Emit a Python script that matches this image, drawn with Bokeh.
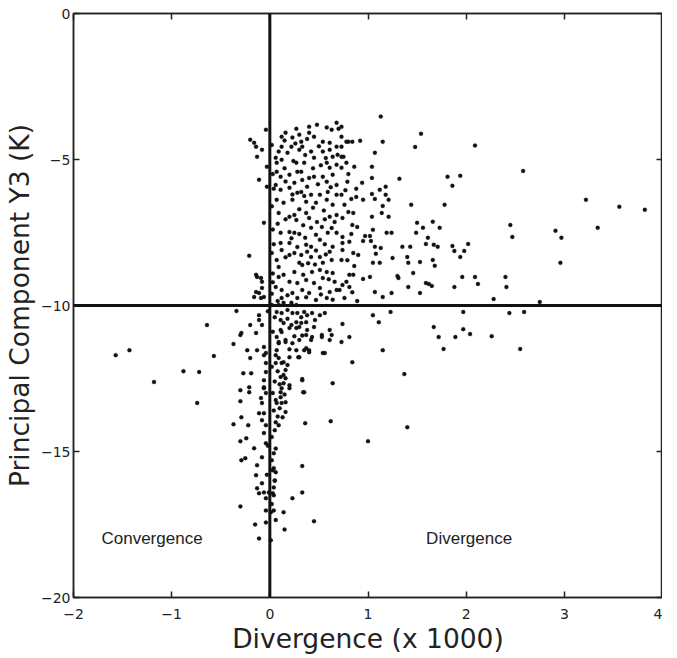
from bokeh.plotting import figure
from bokeh.models import Span, LinearAxis, CustomJSTickFormatter, FixedTicker, ColumnDataSource
from bokeh.core.properties import value
from bokeh.embed import file_html
from bokeh.resources import INLINE

# ---------------- data ----------------
x_ticks = [-2, -1, 0, 1, 2, 3, 4]
y_ticks = [0, -5, -10, -15, -20]
x_title = "Divergence (x 1000)"
y_title = "Principal Component Y3 (K)"

label_x = [-1.20, 2.03]
label_y = [-17.98, -17.98]
label_text = ["Convergence", "Divergence"]

# sparse points, upper right
pts_upper_right = [
    (1.13, -3.53), (1.15, -4.39), (0.92, -4.36), (1.07, -4.77), (1.54, -4.12), (1.48, -4.57),
    (2.09, -4.52), (2.58, -5.39), (3.22, -6.38), (3.56, -6.62), (3.82, -6.72), (3.34, -7.34),
    (2.91, -7.44), (2.97, -7.68), (2.96, -8.54), (2.45, -7.24), (2.47, -7.65), (1.81, -5.59),
    (1.94, -5.56), (1.86, -5.90), (1.32, -5.66), (1.44, -6.55), (1.78, -6.55), (1.50, -7.17),
    (1.56, -7.34), (1.66, -7.13), (1.73, -7.34), (1.49, -7.51), (1.61, -7.68), (1.59, -7.89),
    (1.67, -7.92), (1.71, -7.99), (1.86, -7.96), (1.88, -8.13), (2.02, -7.89), (1.98, -8.13),
    (1.94, -8.34), (1.66, -8.44), (1.68, -8.64), (1.53, -8.51), (1.43, -7.99), (1.40, -8.34),
    (1.41, -8.54), (1.35, -7.99), (1.25, -8.37), (1.46, -8.89), (1.41, -9.37), (1.53, -9.57),
    (1.59, -9.23), (1.62, -9.26), (1.65, -9.33), (1.88, -9.37), (1.96, -9.02), (2.09, -9.02),
    (2.12, -9.26), (2.40, -9.02), (2.41, -9.37), (2.28, -9.78), (2.75, -9.88), (1.30, -8.99),
    (1.31, -9.06), (1.24, -9.57), (1.15, -9.71), (1.07, -9.54), (1.02, -9.02), (0.95, -9.09),
    (1.21, -6.96), (1.21, -6.38), (1.18, -6.21), (1.12, -6.04), (1.18, -5.93), (1.04, -5.63),
    (0.94, -5.80), (0.88, -6.00), (0.88, -6.28), (0.95, -6.38), (1.04, -6.18), (1.07, -6.35),
    (1.15, -6.59), (1.04, -6.96), (1.05, -7.41), (0.97, -7.62), (1.02, -7.62), (0.95, -7.79),
    (1.03, -7.79), (1.07, -7.99), (1.13, -8.03), (1.08, -8.23), (1.05, -8.54), (1.12, -8.54),
    (1.19, -7.51), (1.24, -7.51), (1.14, -6.83), (1.04, -5.25), (0.86, -5.25),
]

# sparse points, lower right
pts_lower_right = [
    (1.97, -10.22), (2.44, -10.26), (2.59, -10.22), (1.67, -10.74), (1.97, -10.81), (1.05, -10.33),
    (1.11, -10.57), (1.23, -10.22), (0.74, -10.63), (0.61, -11.18), (0.73, -11.25), (0.81, -11.08),
    (1.15, -11.53), (0.84, -11.94), (1.00, -14.65), (1.37, -12.35), (1.40, -14.17), (1.72, -11.08),
    (1.77, -11.49), (1.89, -11.08), (2.04, -10.98), (2.26, -11.05), (2.55, -11.49),
]

# points left of the zero line
pts_left = [
    (-1.57, -11.70), (-1.43, -11.53), (-1.18, -12.62), (-0.88, -12.25), (-0.72, -12.28),
    (-0.74, -13.34), (-0.57, -11.73), (-0.64, -10.67), (-0.37, -11.32), (-0.30, -11.01),
    (-0.14, -10.94), (-0.23, -11.53), (-0.13, -11.53), (-0.27, -12.32), (-0.19, -12.32),
    (-0.30, -12.90), (-0.21, -12.97), (-0.30, -13.28), (-0.29, -13.83), (-0.37, -14.07),
    (-0.22, -14.10), (-0.24, -14.55), (-0.30, -14.65), (-0.16, -14.89), (-0.25, -15.23),
    (-0.29, -15.30), (-0.08, -15.20), (-0.13, -15.47), (-0.14, -15.81), (-0.08, -16.09),
    (-0.11, -16.43), (-0.30, -16.88), (-0.15, -17.50), (-0.04, -17.43), (-0.11, -17.98),
    (-0.08, -13.93), (-0.06, -13.69), (-0.08, -13.34), (-0.06, -12.80), (-0.04, -11.63),
    (-0.06, -11.42), (-0.04, -3.98), (-0.20, -4.32), (-0.14, -4.56), (-0.13, -4.91),
    (-0.11, -5.69), (-0.06, -7.17), (-0.21, -8.30), (-0.13, -9.02), (-0.08, -9.19),
    (-0.11, -9.57), (-0.06, -9.71), (-0.34, -10.19), (-0.20, -10.67), (-0.03, -5.93),
    (-0.03, -5.25), (-0.16, -4.43), (-0.08, -4.67), (-0.14, -8.95), (-0.09, -9.06),
    (-0.14, -9.54), (-0.08, -9.40), (-0.16, -9.71), (-0.09, -9.74), (-0.11, -10.33),
    (-0.11, -10.50), (-0.08, -10.67), (-0.29, -10.94), (-0.20, -11.80), (-0.06, -11.70),
    (-0.04, -11.97), (-0.04, -12.28), (-0.06, -12.56), (-0.21, -12.80), (-0.06, -12.83),
    (-0.09, -13.17), (-0.04, -13.00), (-0.11, -13.69), (-0.04, -14.10), (-0.06, -14.37),
    (-0.04, -14.72), (-0.13, -16.26), (-0.06, -16.40), (-0.01, -16.40), (-0.04, -16.60),
    (-0.04, -17.02), (-0.02, -14.80), (-0.03, -15.80), (-0.02, -10.20),
]

# points just right of the zero line, below -10
pts_lower_near = [
    (0.14, -17.08), (0.15, -17.67), (0.23, -16.60), (0.33, -16.40), (0.33, -15.50), (0.45, -17.39),
    (0.36, -14.03), (0.34, -12.97), (0.33, -12.52), (0.64, -12.66), (0.62, -13.96), (0.54, -11.63),
    (0.53, -11.01), (0.61, -10.84), (0.37, -11.46), (0.29, -11.77), (0.20, -12.73), (0.14, -12.38),
    (0.11, -12.97), (0.12, -13.34), (0.13, -13.83), (0.10, -13.52), (0.06, -13.24), (0.05, -14.27),
    (0.04, -15.06), (0.03, -15.64), (0.05, -15.99), (0.03, -16.43), (0.04, -17.02), (0.01, -18.04),
    (0.06, -11.97), (0.09, -11.29), (0.16, -11.18), (0.23, -11.29), (0.30, -11.18), (0.37, -11.01),
    (0.43, -11.08), (0.12, -11.97), (0.16, -12.21), (0.20, -11.77), (0.27, -11.53), (0.40, -11.53),
    (0.30, -10.74), (0.20, -10.77), (0.11, -10.84), (0.09, -9.98), (0.14, -9.91), (0.22, -9.91),
    (0.27, -9.98), (0.07, -10.22), (0.12, -10.26), (0.18, -10.15), (0.23, -10.26), (0.28, -10.26),
    (0.35, -10.22), (0.38, -10.33), (0.43, -10.26), (0.51, -10.33), (0.56, -10.26), (0.11, -10.50),
    (0.14, -10.60), (0.22, -10.67), (0.27, -10.57), (0.32, -10.60), (0.37, -10.57), (0.12, -10.91),
    (0.27, -10.77), (0.38, -10.84), (0.45, -10.74), (0.07, -11.08), (0.33, -11.03), (0.42, -11.18),
    (0.53, -11.08), (0.63, -11.01), (0.09, -11.25), (0.16, -11.25), (0.07, -11.53), (0.35, -11.53),
    (0.40, -11.60), (0.56, -11.63), (0.09, -11.80), (0.14, -11.94), (0.30, -11.77), (0.18, -12.04),
    (0.11, -12.45), (0.16, -12.49), (0.14, -12.66), (0.33, -12.56), (0.12, -12.83), (0.20, -12.83),
    (0.35, -12.97), (0.11, -13.14), (0.07, -13.34), (0.16, -13.31), (0.06, -14.00), (0.16, -13.65),
    (0.04, -15.57), (0.06, -15.71), (0.04, -16.23), (0.04, -16.50), (0.01, -17.08),
    (0.05, -10.40), (0.03, -10.90), (0.06, -11.70), (0.02, -12.10), (0.05, -12.60), (0.03, -13.00),
    (0.04, -13.60), (0.02, -14.50), (0.06, -14.90), (0.02, -15.30), (0.05, -16.00), (0.02, -16.80),
    (0.06, -17.35), (0.18, -10.45), (0.25, -11.05), (0.08, -12.25), (0.10, -12.70), (0.15, -13.05),
    (0.09, -14.10), (0.08, -13.80), (0.20, -11.50), (0.32, -10.40), (0.46, -10.50),
]

# dense cluster above -10, right of the zero line
pts_cluster = [
    (0.48, -3.81), (0.68, -3.74), (0.63, -3.98), (0.40, -4.08), (0.30, -4.15), (0.16, -4.08),
    (0.12, -4.22), (0.23, -4.25), (0.45, -4.22), (0.54, -4.39), (0.61, -4.43), (0.68, -4.56),
    (0.32, -4.39), (0.33, -4.56), (0.30, -4.67), (0.22, -4.56), (0.12, -4.56), (0.09, -4.73),
    (0.18, -4.77), (0.42, -4.73), (0.45, -4.94), (0.54, -4.73), (0.61, -4.67), (0.64, -4.91),
    (0.69, -4.84), (0.58, -5.11), (0.61, -5.28), (0.68, -5.18), (0.06, -4.94), (0.07, -5.11),
    (0.12, -5.01), (0.27, -5.11), (0.35, -5.11), (0.28, -5.42), (0.32, -5.42), (0.07, -5.42),
    (0.11, -5.59), (0.20, -5.52), (0.40, -5.63), (0.45, -5.59), (0.54, -5.59), (0.64, -5.52),
    (0.58, -5.76), (0.68, -5.87), (0.38, -5.93), (0.25, -5.80), (0.20, -5.97), (0.06, -5.87),
    (0.11, -6.04), (0.28, -6.14), (0.32, -6.11), (0.42, -6.21), (0.51, -6.21), (0.59, -6.11),
    (0.68, -6.21), (0.07, -6.38), (0.14, -6.48), (0.23, -6.38), (0.37, -6.45), (0.47, -6.48),
    (0.58, -6.38), (0.64, -6.55), (0.09, -6.83), (0.20, -6.96), (0.25, -6.90), (0.27, -7.07),
    (0.37, -6.83), (0.40, -7.00), (0.48, -7.14), (0.53, -7.31), (0.61, -6.96), (0.68, -6.90),
    (0.66, -7.14), (0.11, -7.51), (0.20, -7.48), (0.25, -7.51), (0.30, -7.55), (0.42, -7.34),
    (0.47, -7.58), (0.51, -7.75), (0.59, -7.51), (0.68, -7.51), (0.11, -7.86), (0.12, -8.10),
    (0.20, -7.86), (0.37, -7.92), (0.42, -7.99), (0.38, -8.16), (0.64, -7.99), (0.61, -8.16),
    (0.20, -8.27), (0.25, -8.20), (0.32, -8.27), (0.42, -8.34), (0.51, -8.34), (0.63, -8.44),
    (0.30, -8.54), (0.33, -8.61), (0.54, -8.54), (0.07, -8.44), (0.09, -8.68), (0.25, -8.85),
    (0.43, -8.85), (0.51, -8.78), (0.58, -8.85), (0.64, -8.89), (0.09, -9.02), (0.20, -9.19),
    (0.28, -9.23), (0.37, -9.13), (0.45, -9.23), (0.54, -9.06), (0.66, -9.19), (0.06, -9.37),
    (0.12, -9.47), (0.23, -9.57), (0.33, -9.47), (0.40, -9.57), (0.51, -9.40), (0.61, -9.54),
    (0.68, -9.47), (0.12, -9.74), (0.28, -9.74), (0.47, -9.81), (0.58, -9.74), (0.02, -9.98),
    (0.85, -6.83), (0.74, -7.00), (0.84, -7.24), (0.89, -7.31), (0.74, -7.65), (0.81, -7.82),
    (0.74, -7.86), (0.74, -8.10), (0.85, -8.20), (0.90, -8.27), (0.73, -8.44), (0.81, -8.95),
    (0.85, -8.95), (0.78, -9.19), (0.74, -9.30), (0.81, -9.37), (0.71, -9.47), (0.76, -9.74),
    (0.89, -9.85), (0.78, -4.39), (0.80, -4.39), (0.84, -4.39), (0.73, -3.88), (0.73, -4.22),
    (0.73, -4.56), (0.73, -4.91), (0.75, -4.91), (0.78, -5.11), (0.73, -5.28), (0.79, -5.76),
    (0.73, -6.21), (0.76, -6.55), (0.02, -4.50), (0.03, -5.50), (0.02, -6.60), (0.03, -7.40),
    (0.02, -8.20), (0.03, -8.90), (0.02, -9.60), (0.04, -6.00), (0.04, -7.90), (0.03, -9.20),
    (0.15, -4.35), (0.26, -4.45), (0.38, -4.30), (0.50, -4.55), (0.57, -4.95), (0.36, -4.85),
    (0.24, -5.05), (0.15, -5.30), (0.44, -5.30), (0.52, -5.20), (0.33, -5.70), (0.16, -5.75),
    (0.49, -5.85), (0.62, -5.95), (0.23, -6.20), (0.35, -6.25), (0.44, -6.65), (0.55, -6.75),
    (0.30, -6.70), (0.16, -7.05), (0.08, -7.20), (0.34, -7.25), (0.56, -7.05), (0.63, -7.35),
    (0.22, -7.70), (0.36, -7.68), (0.56, -7.90), (0.28, -8.00), (0.16, -8.35), (0.47, -8.12),
    (0.57, -8.25), (0.39, -8.55), (0.46, -8.60), (0.14, -8.95), (0.34, -8.95), (0.60, -9.10),
    (0.18, -9.65), (0.37, -9.72), (0.52, -9.62), (0.64, -9.80), (0.08, -9.85), (0.80, -5.50),
    (0.77, -6.05), (0.83, -6.35), (0.80, -6.80), (0.83, -7.55), (0.79, -8.45), (0.86, -8.65),
    (0.84, -9.55), (0.70, -3.95), (0.58, -3.90), (0.40, -3.88), (0.27, -3.95),
]

groups = [pts_upper_right, pts_lower_right, pts_left, pts_lower_near, pts_cluster]
xs = [pt[0] for g in groups for pt in g]
ys = [pt[1] for g in groups for pt in g]

# ---------------- figure ----------------
TICK_FONT = "DejaVu Sans"
TITLE_FONT = "DejaVu Sans"

p = figure(width=662, height=656, x_range=(-2, 4), y_range=(-20, 0),
           output_backend="svg", toolbar_location=None,
           min_border_left=69, min_border_top=13, min_border_right=0, min_border_bottom=40,
           x_axis_label=x_title, y_axis_label=y_title)
p.grid.visible = False
p.outline_line_color = "#222222"
p.outline_line_width = 1.5
p.background_fill_color = "white"
p.border_fill_color = "white"

minus_fmt = CustomJSTickFormatter(code="return tick < 0 ? '\u2212' + Math.abs(tick) : String(tick);")
empty_fmt = CustomJSTickFormatter(code="return '';")

def style_axis(ax, ticks):
    ax.ticker = FixedTicker(ticks=ticks)
    ax.axis_line_color = "#222222"
    ax.axis_line_width = 1.5
    ax.major_tick_line_color = "#222222"
    ax.major_tick_line_width = 1.5
    ax.major_tick_in = 6
    ax.major_tick_out = 0
    ax.minor_tick_line_color = None
    ax.major_label_text_font = TICK_FONT
    ax.major_label_text_font_size = "14px"
    ax.major_label_text_color = "#222222"
    ax.axis_label_text_font = TITLE_FONT
    ax.axis_label_text_font_size = "26.5px"
    ax.axis_label_text_font_style = "normal"
    ax.axis_label_text_color = "#222222"

style_axis(p.xaxis[0], x_ticks)
style_axis(p.yaxis[0], y_ticks)
p.xaxis[0].formatter = minus_fmt
p.yaxis[0].formatter = minus_fmt
p.xaxis[0].major_label_standoff = 11
p.xaxis[0].axis_label_standoff = 1
p.yaxis[0].major_label_standoff = 3
p.yaxis[0].axis_label_standoff = 3

top_ax = LinearAxis()
right_ax = LinearAxis()
for ax, t in ((top_ax, x_ticks), (right_ax, y_ticks)):
    style_axis(ax, t)
    ax.formatter = empty_fmt
    ax.major_label_text_font_size = "0px"
    ax.major_label_standoff = 0
    ax.axis_label_standoff = 0
p.add_layout(top_ax, "above")
p.add_layout(right_ax, "right")

src = ColumnDataSource(data=dict(x=xs, y=ys))
p.scatter("x", "y", source=src, marker="circle", size=4, fill_color="#111111",
          line_color="#111111", line_width=0.3)

p.add_layout(Span(location=0, dimension="height", line_color="#111111", line_width=3))
p.add_layout(Span(location=-10, dimension="width", line_color="#111111", line_width=3))

p.text(x=label_x, y=label_y, text=label_text, text_font=value("Liberation Sans"),
       text_font_size="17px", text_align="center", text_baseline="middle", text_color="#222222")

open("out.html", "w").write(file_html(p, INLINE))
